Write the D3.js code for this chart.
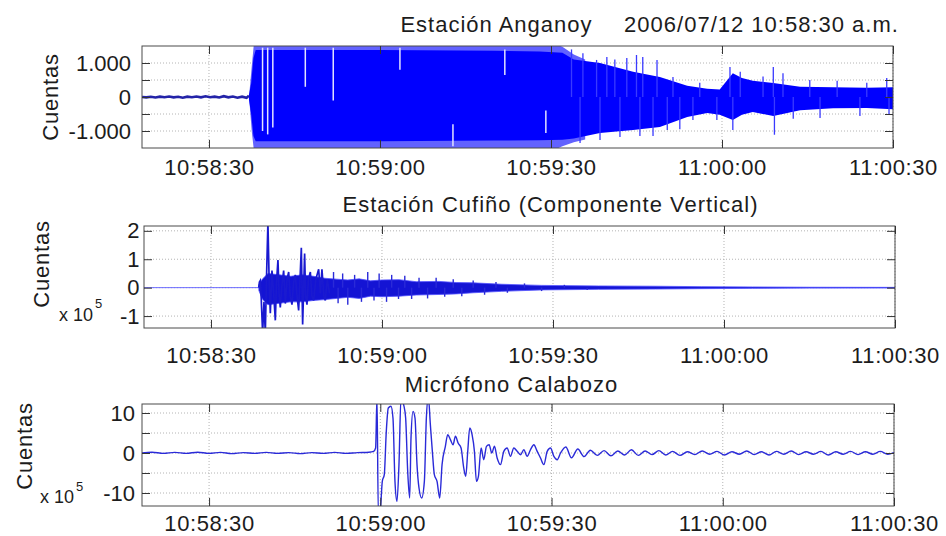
<!DOCTYPE html>
<html><head><meta charset="utf-8">
<script src="https://cdn.jsdelivr.net/npm/d3@7"></script>
<style>
html,body{margin:0;padding:0;background:#fff;}
svg{display:block;}
</style></head><body>
<svg id="c" width="946" height="536"></svg>
<script>
// ---------- shared time axis (seconds relative to 10:58:30) ----------
const xStart = -11.75, xEnd = 120;
const xTicks = [0, 30, 60, 90, 120];
const xLabels = ["10:58:30", "10:59:00", "10:59:30", "11:00:00", "11:00:30"];

// ---------- Estación Anganoy (cuentas) ----------
const angYTicks = [1000, 500, 0, -500, -1000];
const angYLabels = ["1.000", "", "0", "", "-1.000"];
const angPreT = [-11.75,-11,-10.2,-9.4,-8.6,-7.8,-7,-6.2,-5.4,-4.6,-3.8,-3,-2.2,-1.4,-0.6,0.2,1,1.8,2.6,3.4,4.2,5,5.8,6.6,7.0];
const angPreV = [0,-10,5,-15,10,-5,15,-10,5,-20,10,-5,15,-10,20,-5,10,-15,25,-10,15,-20,10,-25,40];
const angOutT = [7.1, 7.5, 7.9, 60, 62, 64, 66];
const angOutHi = [150, 900, 1600, 1600, 1480, 1250, 1100];
const angOutLo = [-150, -1000, -1600, -1600, -1450, -1330, -1250];
const angEnvT = [7.0, 7.4, 7.8, 8.2, 30, 50, 58, 62, 64, 68.6, 74.4, 79.1, 83.9, 87.4, 89.6, 91.9, 93.5, 95.4, 99, 103.7, 109.5, 115.4, 120];
const angEnvHi = [60, 400, 1150, 1380, 1380, 1360, 1340, 1300, 1100, 1000, 740, 590, 330, 240, 220, 700, 560, 480, 410, 300, 290, 270, 290];
const angEnvLo = [-60, -500, -1150, -1300, -1300, -1280, -1270, -1260, -1220, -1060, -970, -880, -590, -470, -520, -680, -520, -440, -560, -390, -330, -320, -360];
const angSpikeT = [63.6,65.1,65.6,68,68.6,69.8,71.2,72.1,73.3,75,75.6,76.1,77.9,78.6,80.4,81.4,82.6,84.9,86.1,89.1,91.4,91.9,93.2,97.2,99,99.2,100.7,102.5,105.4,107.2,110.2,114.2,115.4,118.9,119.3];
const angSpikeV = [1400,-1350,1290,1090,-1265,1180,1100,-1180,1150,1235,-1150,1180,-1150,1090,-970,590,-950,-680,420,-680,880,-970,740,600,880,-1110,700,-640,500,-620,480,-560,420,560,-530];
const angGapT = [9.4, 10.3, 11.2, 16.9, 21.8, 33.5, 42.8, 51.9, 59.1];
const angGapHi = [1450, 1450, 1450, 1450, 1450, 1450, -800, 1400, -400];
const angGapLo = [-1000, -1100, -900, 300, -100, 800, -1450, 650, -1060];

// ---------- Estación Cufiño (x 10^5 cuentas) ----------
const cufYTicks = [2, 1, 0, -1];
const cufYLabels = ["2", "1", "0", "-1"];
const cufBaseT = [-11.75, 120];
const cufBaseV = [0, 0];
const cufEnvT = [8.4, 9, 10, 12, 14, 16, 18, 20, 22, 24, 26, 28, 30, 33, 36, 40, 43, 46, 51, 58, 68, 78, 86, 95, 105, 120];
const cufEnvHi = [0.1, 0.3, 0.5, 0.45, 0.4, 0.45, 0.4, 0.33, 0.3, 0.27, 0.31, 0.24, 0.27, 0.28, 0.21, 0.22, 0.18, 0.17, 0.12, 0.08, 0.06, 0.05, 0.035, 0.025, 0.015, 0.01];
const cufEnvLo = [-0.1, -0.4, -0.6, -0.55, -0.5, -0.5, -0.45, -0.42, -0.38, -0.34, -0.38, -0.3, -0.32, -0.3, -0.26, -0.24, -0.22, -0.18, -0.13, -0.08, -0.06, -0.05, -0.035, -0.025, -0.015, -0.01];
const cufT = [8.37,8.5,8.65,8.8,9.06,9.3,9.53,9.75,9.99,10.2,10.41,10.7,11.0,11.29,11.5,11.75,11.95,12.16,12.45,12.75,13.04,13.35,13.63,13.9,14.21,14.5,14.8,15.1,15.38,15.6,15.85,16.08,16.43,16.6,16.84,17.1,17.43,17.7,18.01,18.4,18.89,19.2,19.47,19.8,20.06,20.4,20.8];
const cufV = [0,0.2,0.25,-0.3,-1.6,-0.5,-1.6,0.4,2.3,0.3,-0.9,0.6,-0.2,-1.15,0.2,0.97,-0.2,-0.7,0.1,0.6,-0.56,0.3,0.55,-0.3,-0.6,0.2,0.45,-0.3,-0.8,0.2,1.4,-1.3,1.2,-0.3,-0.6,0.3,0.55,-0.3,-0.45,0.3,0.65,-0.2,0.65,-0.3,-0.45,0.3,-0.2];
const cufSpikeT = [21.5,22.3,23.1,24.0,25.2,26.4,27.5,28.6,29.5,30.8,31.7,32.9,34.0,35.2,36.5,38.0,39.5,41.0,42.5,44.0,46.0,48.0,50.0,52.0,55.0,58.0,62.0,66.0];
const cufSpikeV = [0.55,-0.55,0.5,-0.6,0.45,-0.5,0.55,-0.45,0.5,-0.5,0.45,-0.4,0.42,-0.4,0.35,-0.38,0.35,-0.32,0.3,-0.3,0.25,-0.25,0.2,-0.18,0.15,-0.12,0.1,-0.08];

// ---------- Micrófono Calabozo (x 10^5 cuentas) ----------
const calYTicks = [10, 5, 0, -5, -10];
const calYLabels = ["10", "", "0", "", "-10"];
const calT = [-11.75,-10,-8,-6,-4,-2,0,2,4,6,8,10,12,14,16,18,20,22,24,26,28,
  28.83,29.18,29.42,29.65,30.0,30.35,30.7,31.05,31.4,31.87,32.22,32.57,32.92,33.27,33.63,34.09,34.44,34.8,35.15,35.38,35.73,36.08,36.43,36.78,37.25,37.72,38.07,38.42,38.77,39.12,39.47,39.94,40.41,40.82,41.4,41.81,42.28,42.75,43.16,43.63,44.15,44.62,44.97,45.32,45.67,46.08,46.49,46.84,47.19,47.66,48.13,48.6,49.07,49.53,50.0,50.47,51.05,51.64,52.22,52.81,53.39,53.98,54.56,55.15,55.73,56.32,56.9,57.49,58.07,58.65,59.24,59.82,60.41,61.0,61.58,
  62.5,63.5,64.6,65.7,66.8,68.0,69.2,70.4,71.6,72.8,74.0,75.2,76.4,77.6,78.8,80.0,81.2,82.5,83.8,85.1,86.4,87.7,89.0,90.3,91.6,92.9,94.2,95.5,96.8,98.1,99.4,100.7,102.0,103.3,104.6,105.9,107.2,108.5,109.8,111.1,112.4,113.7,115.0,116.3,117.6,118.9,120];
const calV = [0,0.2,-0.1,0.15,-0.1,0.2,-0.1,0.15,-0.15,0.1,-0.1,0.15,-0.1,0.1,-0.15,0.1,-0.1,0.15,-0.1,0.1,0.2,
  0.42,1.25,14,-15,-14,-7.08,-5.4,5.4,11.25,11.7,8.75,-7.1,-12.1,-2.9,14,12.1,8.75,-4.6,-11.25,3.75,10.4,8.75,-2.9,-8.75,-11.25,-7.1,8.75,14,7.1,0.4,-5.4,-7.1,-11.25,-2.9,1.67,4.6,3.33,2.08,4.17,2.5,1.25,-3.75,-5.83,0.42,6.25,4.6,0.42,-7.08,-5.83,1.25,-1.67,1.67,2.08,0,1.67,-1.25,-2.9,0.42,1.25,-0.83,1.25,0.42,-0.42,0.83,-0.83,0.83,2.08,0.42,-1.25,-2.9,0.42,1.25,-0.83,-1.67,0,
  1.5,-1.2,1.0,-0.9,0.7,-0.6,0.6,-0.7,0.5,-0.5,0.8,-0.6,0.5,-0.4,0.6,-0.5,0.4,-0.6,0.3,-0.4,0.5,-0.3,0.4,-0.5,0.3,-0.3,0.5,-0.4,0.3,-0.5,0.4,-0.3,0.5,-0.4,0.3,-0.3,0.4,-0.5,0.3,-0.3,0.4,-0.4,0.3,-0.3,0.4,-0.3,0.1];

// ---------- layout & style ----------
const FONT = '"Liberation Sans", Arial, Helvetica, sans-serif';
const TXT = "#1c1c1c";
const layout = [
  {l:142, r:893, t:46,  b:148, xPad:11, yPad:11, yDom:[-1500,1500]},
  {l:144, r:895, t:226, b:328, xPad:19, yPad:4.5, yDom:[-1.42,2.17]},
  {l:142, r:894, t:404, b:506, xPad:9, yPad:7, yDom:[-13.25,12.25]}
];

const svg = d3.select("#c");
const defs = svg.append("defs");

function drawPanel(i, yTicks, yLabels, render){
  const L = layout[i];
  const x = d3.scaleLinear().domain([xStart, xEnd]).range([L.l, L.r]);
  const y = d3.scaleLinear().domain(L.yDom).range([L.b, L.t]);
  const g = svg.append("g");
  g.append("g").selectAll("line").data(xTicks).join("line")
    .attr("x1", d => x(d)).attr("x2", d => x(d)).attr("y1", L.t).attr("y2", L.b)
    .attr("stroke", "#b4b4b4").attr("stroke-dasharray", "1,2");
  g.append("g").selectAll("line").data(yTicks).join("line")
    .attr("y1", d => y(d)).attr("y2", d => y(d)).attr("x1", L.l).attr("x2", L.r)
    .attr("stroke", "#b4b4b4").attr("stroke-dasharray", "1,2");
  defs.append("clipPath").attr("id", "cp" + i).append("rect")
    .attr("x", L.l).attr("y", L.t).attr("width", L.r - L.l).attr("height", L.b - L.t);
  const dg = g.append("g").attr("clip-path", `url(#cp${i})`);
  render(dg, x, y);
  g.append("rect").attr("x", L.l).attr("y", L.t).attr("width", L.r - L.l).attr("height", L.b - L.t)
    .attr("fill", "none").attr("stroke", "#4a4a4a").attr("stroke-width", 1);
  const style = (sel, showText, ls) => {
    sel.attr("font-family", FONT).attr("font-size", null);
    sel.select(".domain").remove();
    sel.selectAll(".tick line").attr("stroke", "#333").attr("stroke-width", 1);
    sel.selectAll(".tick text").attr("fill", TXT).style("font-size", "22px").style("letter-spacing", ls);
    if (!showText) sel.selectAll(".tick text").remove();
  };
  g.append("g").attr("transform", `translate(0,${L.b})`)
    .call(d3.axisBottom(x).tickValues(xTicks).tickFormat(d => xLabels[xTicks.indexOf(d)])
      .tickSizeInner(-8).tickSizeOuter(0).tickPadding(L.xPad))
    .call(s => style(s, true, "0.6px"));
  g.append("g").attr("transform", `translate(0,${L.t})`)
    .call(d3.axisTop(x).tickValues(xTicks).tickSizeInner(-8).tickSizeOuter(0))
    .call(s => style(s, false, "0"));
  g.append("g").attr("transform", `translate(${L.l},0)`)
    .call(d3.axisLeft(y).tickValues(yTicks).tickFormat(d => yLabels[yTicks.indexOf(d)])
      .tickSizeInner(-8).tickSizeOuter(0).tickPadding(L.yPad))
    .call(s => style(s, true, "0"));
  g.append("g").attr("transform", `translate(${L.r},0)`)
    .call(d3.axisRight(y).tickValues(yTicks).tickSizeInner(-8).tickSizeOuter(0))
    .call(s => style(s, false, "0"));
}

const lineGen = (x, y) => d3.line().x(d => x(d[0])).y(d => y(d[1]));
const areaGen = (x, y) => d3.area().x(d => x(d[0])).y0(d => y(d[2])).y1(d => y(d[1]));

// Panel 1: Anganoy
drawPanel(0, angYTicks, angYLabels, (g, x, y) => {
  g.append("path").datum(d3.zip(angOutT, angOutHi, angOutLo)).attr("d", areaGen(x, y)).attr("fill", "#6262ff");
  g.append("path").datum(d3.zip(angEnvT, angEnvHi, angEnvLo)).attr("d", areaGen(x, y)).attr("fill", "#0000ff");
  g.append("g").selectAll("line").data(d3.zip(angSpikeT, angSpikeV)).join("line")
    .attr("x1", d => x(d[0])).attr("x2", d => x(d[0])).attr("y1", y(0)).attr("y2", d => y(d[1]))
    .attr("stroke", "#3a3aff").attr("stroke-width", 1.3);
  g.append("g").selectAll("line").data(d3.zip(angGapT, angGapHi, angGapLo)).join("line")
    .attr("x1", d => x(d[0])).attr("x2", d => x(d[0])).attr("y1", d => y(d[1])).attr("y2", d => y(d[2]))
    .attr("stroke", "#e2e2ff").attr("stroke-width", 1.5);
  g.append("path").datum(d3.zip(angPreT, angPreV)).attr("d", lineGen(x, y))
    .attr("fill", "none").attr("stroke", "#2323a8").attr("stroke-width", 2.6);
});

// Panel 2: Cufiño
drawPanel(1, cufYTicks, cufYLabels, (g, x, y) => {
  g.append("path").datum(d3.zip(cufBaseT, cufBaseV)).attr("d", lineGen(x, y))
    .attr("fill", "none").attr("stroke", "#6a6aff").attr("stroke-width", 1);
  g.append("path").datum(d3.zip(cufEnvT, cufEnvHi, cufEnvLo)).attr("d", areaGen(x, y))
    .attr("fill", "#1414d4").attr("stroke", "#5050ff").attr("stroke-width", 0.8);
  g.append("g").selectAll("line").data(d3.zip(cufSpikeT, cufSpikeV)).join("line")
    .attr("x1", d => x(d[0])).attr("x2", d => x(d[0])).attr("y1", y(0)).attr("y2", d => y(d[1]))
    .attr("stroke", "#2a2ad8").attr("stroke-width", 1.4);
  g.append("path").datum(d3.zip(cufT, cufV)).attr("d", lineGen(x, y))
    .attr("fill", "none").attr("stroke", "#1a1ad0").attr("stroke-width", 1.7);
});

// Panel 3: Calabozo
drawPanel(2, calYTicks, calYLabels, (g, x, y) => {
  g.append("path").datum(d3.zip(calT, calV)).attr("d", lineGen(x, y).curve(d3.curveMonotoneX))
    .attr("fill", "none").attr("stroke", "#2a2ad8").attr("stroke-width", 1.4);
});

// ---------- texts ----------
const txt = (s, xx, yy, size, ls, anchor) => svg.append("text").attr("x", xx).attr("y", yy)
  .attr("font-family", FONT).attr("font-size", size).attr("fill", TXT)
  .attr("text-anchor", anchor || "middle").style("letter-spacing", ls || "0").text(s);

txt("Estación Anganoy", 496.5, 32, 22, "1px");
txt("2006/07/12 10:58:30 a.m.", 761.5, 32, 22, "1px");
txt("Estación Cufiño (Componente Vertical)", 550.5, 212, 22, "1px");
txt("Micrófono Calabozo", 511.5, 392, 22, "1px");

const ylab = [[58, 97], [49, 264], [32, 446]];
ylab.forEach(p => txt("Cuentas", 0, 0, 22, "0.8px").attr("transform", `translate(${p[0]},${p[1]}) rotate(-90)`));

const mult = [[59, 321, 308], [40, 503, 491]];
mult.forEach(p => {
  const t = svg.append("text").attr("x", p[0]).attr("y", p[1]).attr("font-family", FONT)
    .attr("font-size", 18).attr("fill", TXT);
  t.append("tspan").text("x 10");
  t.append("tspan").attr("font-size", 13).attr("dx", 2).attr("dy", p[2] - p[1]).text("5");
});
</script>
</body></html>
